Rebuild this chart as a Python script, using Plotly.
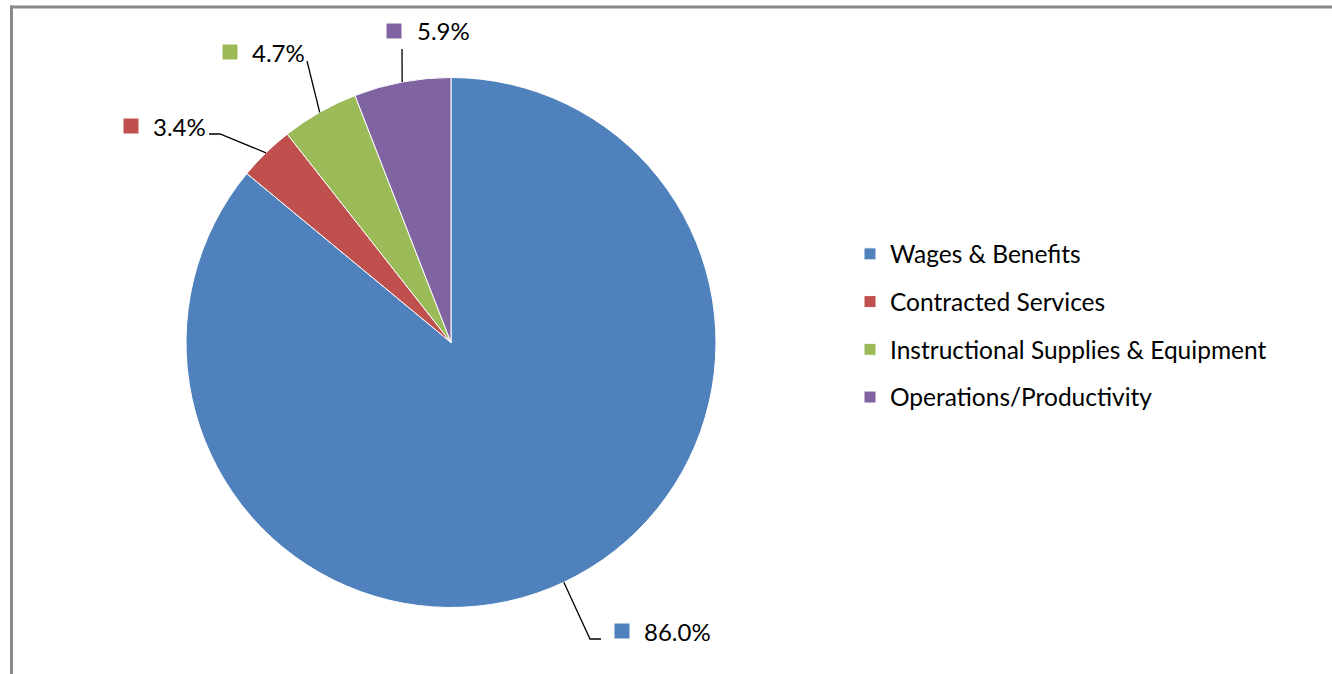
import math
import plotly.graph_objects as go

W, H = 1332, 674

# ---- data ----
categories = ["Wages & Benefits", "Contracted Services",
              "Instructional Supplies & Equipment", "Operations/Productivity"]
shares = [86.0, 3.4, 4.7, 5.9]
colors = ["#4F81BD", "#C0504D", "#9BBB59", "#8064A2"]

# ---- layout (pixels) ----
pie_left, pie_right, pie_top, pie_bottom = 186, 716, 77.5, 607.5
key_center = [(622, 631), (131, 126), (230, 52), (394, 31)]   # small colour key of each data label
text_left = [643, 152, 251, 416]
leader_knee = [(590, 639), (220, 134), (307, 61), (402, 49)]
leader_end = [(601, 639), (209, 134), (307, 61), (402, 49)]
FONT = "Lato"


def px(x):
    return x / W


def py(y):
    return 1 - y / H


cx = (pie_left + pie_right) / 2
cy = (pie_top + pie_bottom) / 2
R = (pie_right - pie_left) / 2

legend_labels = [
    f'<span style="font-size:24.5px;baseline-shift:4px">{c}</span>' for c in categories
]

fig = go.Figure(go.Pie(
    labels=legend_labels,
    values=shares,
    sort=False,
    direction="clockwise",
    rotation=0,
    marker=dict(colors=colors, line=dict(color="white", width=1)),
    textinfo="none",
    hoverinfo="percent",
    domain=dict(x=[px(pie_left), px(pie_right)], y=[py(pie_bottom), py(pie_top)]),
))

shapes = []
annotations = []
total = sum(shares)
cum = 0.0
for i, v in enumerate(shares):
    mid = (cum + v / 2) / total * 2 * math.pi
    cum += v
    ex = cx + R * math.sin(mid)
    ey = cy - R * math.cos(mid)
    kx, ky = leader_knee[i]
    lx, ly = leader_end[i]
    shapes.append(dict(
        type="path", xref="paper", yref="paper",
        path=f"M {px(ex)} {py(ey)} L {px(kx)} {py(ky)} L {px(lx)} {py(ly)}",
        line=dict(color="black", width=1.3),
    ))
    sx, sy = key_center[i]
    shapes.append(dict(
        type="rect", xref="paper", yref="paper",
        x0=px(sx - 7.5), x1=px(sx + 7.5), y0=py(sy + 7.5), y1=py(sy - 7.5),
        fillcolor=colors[i], line=dict(width=0),
    ))
    annotations.append(dict(
        xref="paper", yref="paper", x=px(text_left[i]), y=py(sy),
        xanchor="left", yanchor="middle", showarrow=False, borderpad=0,
        text=f"{v:.1f}%", font=dict(family=FONT, size=24, color="#000000"),
    ))

# chart frame (top and left edges visible)
frame = dict(color="#8a8a8a", width=3)
shapes.append(dict(type="line", xref="paper", yref="paper",
                   x0=px(10), x1=1, y0=py(7), y1=py(7), line=frame))
shapes.append(dict(type="line", xref="paper", yref="paper",
                   x0=px(11.5), x1=px(11.5), y0=py(5.5), y1=0, line=frame))

fig.update_layout(
    width=W, height=H,
    margin=dict(l=0, r=0, t=0, b=0),
    paper_bgcolor="white", plot_bgcolor="white",
    font=dict(family=FONT, color="#000000"),
    showlegend=True,
    legend=dict(
        x=px(850), xanchor="left", y=py(325.5), yanchor="middle",
        font=dict(family=FONT, size=34.4, color="#000000"),
        bgcolor="rgba(0,0,0,0)", itemclick=False, itemdoubleclick=False,
    ),
    shapes=shapes,
    annotations=annotations,
)

fig.write_html(
    "out.html",
    config={"displayModeBar": False},
    post_script="document.body.style.margin='0';document.body.style.overflow='hidden';",
)
